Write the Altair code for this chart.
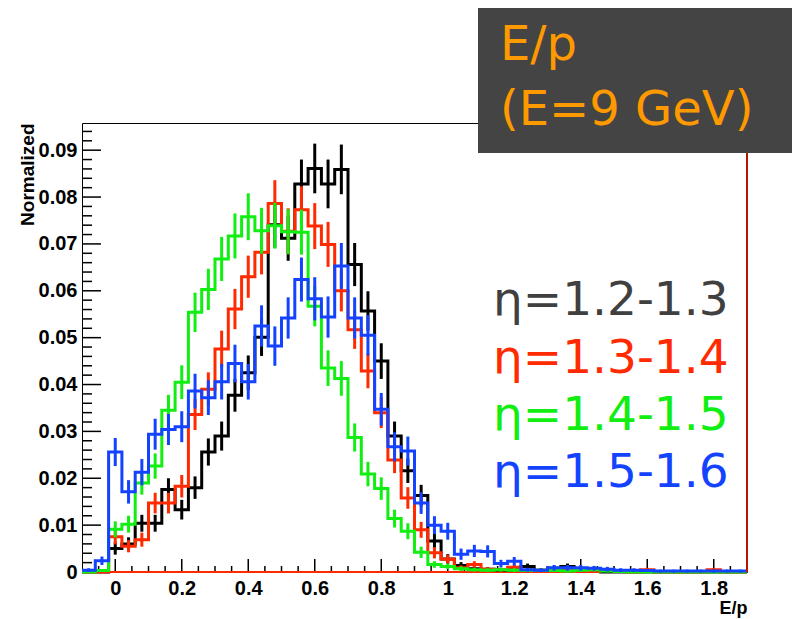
import numpy as np
import pandas as pd
import altair as alt

# ---------------- binning of the E/p histograms ----------------
X_MIN, X_MAX = -0.1, 1.9
BIN_WIDTH = 0.04
N_BINS = 50
BIN_LEFT = np.round(X_MIN + BIN_WIDTH * np.arange(N_BINS), 4)
BIN_CENTER = np.round(BIN_LEFT + BIN_WIDTH / 2, 4)

# ---------------- series ----------------
SERIES = ["η=1.2-1.3", "η=1.3-1.4", "η=1.4-1.5", "η=1.5-1.6"]
LINE_COLORS = ["#000000", "#ff2a00", "#11ee11", "#1443ff"]
TEXT_COLORS = ["#404040", "#ff2a00", "#11ee11", "#1443ff"]

VAL_12 = [0, 0, 0.0050, 0.0060, 0.0104, 0.0104, 0.0176, 0.0133, 0.0180, 0.0256,
          0.0290, 0.0377, 0.0425, 0.0501, 0.0741, 0.0712, 0.0828, 0.0861, 0.0828, 0.0859,
          0.0656, 0.0557, 0.0450, 0.0290, 0.0216, 0.0163, 0.0066, 0.0028, 0.0014, 0.0007,
          0.0006, 0.0004, 0.0005, 0.0012, 0.0004, 0.0008, 0.0012, 0.0004, 0.0003, 0,
          0, 0, 0, 0, 0, 0, 0, 0, 0, 0]
ERR_12 = [0, 0, 0.0013, 0.0014, 0.0018, 0.0018, 0.0024, 0.0021, 0.0024, 0.0029,
          0.0031, 0.0035, 0.0037, 0.0040, 0.0049, 0.0048, 0.0052, 0.0053, 0.0052, 0.0053,
          0.0046, 0.0042, 0.0038, 0.0031, 0.0026, 0.0023, 0.0015, 0.0010, 0.0007, 0.0005,
          0.0004, 0.0004, 0.0004, 0.0006, 0.0004, 0.0005, 0.0006, 0.0004, 0.0003, 0,
          0, 0, 0, 0, 0, 0, 0, 0, 0, 0]

VAL_13 = [0, 0, 0.0075, 0.0055, 0.0069, 0.0147, 0.0147, 0.0183, 0.0336, 0.0390,
          0.0476, 0.0561, 0.0630, 0.0682, 0.0786, 0.0727, 0.0773, 0.0738, 0.0699, 0.0600,
          0.0517, 0.0429, 0.0340, 0.0239, 0.0158, 0.0090, 0.0041, 0.0027, 0.0009, 0.0016,
          0.0006, 0.0005, 0.0010, 0.0002, 0.0004, 0.0002, 0.0004, 0.0003, 0.0002, 0.0003,
          0.0002, 0, 0.0005, 0, 0, 0, 0, 0.0005, 0, 0]
ERR_13 = [0, 0, 0.0016, 0.0013, 0.0015, 0.0022, 0.0022, 0.0024, 0.0033, 0.0036,
          0.0039, 0.0043, 0.0045, 0.0047, 0.0050, 0.0049, 0.0050, 0.0049, 0.0048, 0.0044,
          0.0041, 0.0037, 0.0033, 0.0028, 0.0023, 0.0017, 0.0012, 0.0009, 0.0005, 0.0007,
          0.0004, 0.0004, 0.0006, 0.0003, 0.0004, 0.0003, 0.0004, 0.0003, 0.0003, 0.0003,
          0.0003, 0, 0.0004, 0, 0, 0, 0, 0.0004, 0, 0]

VAL_14 = [0, 0.0003, 0.0091, 0.0102, 0.0190, 0.0226, 0.0345, 0.0405, 0.0554, 0.0603,
          0.0668, 0.0717, 0.0758, 0.0728, 0.0739, 0.0726, 0.0725, 0.0567, 0.0435, 0.0413,
          0.0287, 0.0209, 0.0178, 0.0114, 0.0087, 0.0042, 0.0016, 0.0012, 0.0007, 0.0005,
          0.0004, 0.0005, 0.0004, 0.0003, 0.0004, 0.0003, 0.0002, 0.0004, 0.0005, 0.0002,
          0.0001, 0, 0, 0, 0, 0, 0, 0, 0, 0]
ERR_14 = [0, 0.0003, 0.0017, 0.0018, 0.0025, 0.0027, 0.0033, 0.0036, 0.0042, 0.0044,
          0.0047, 0.0048, 0.0050, 0.0049, 0.0049, 0.0048, 0.0048, 0.0043, 0.0038, 0.0037,
          0.0030, 0.0026, 0.0024, 0.0019, 0.0017, 0.0012, 0.0007, 0.0006, 0.0005, 0.0004,
          0.0004, 0.0004, 0.0004, 0.0003, 0.0004, 0.0003, 0.0003, 0.0004, 0.0004, 0.0003,
          0.0002, 0, 0, 0, 0, 0, 0, 0, 0, 0]

VAL_15 = [0.0004, 0.0024, 0.0256, 0.0171, 0.0213, 0.0294, 0.0304, 0.0310, 0.0386, 0.0372,
          0.0406, 0.0445, 0.0406, 0.0525, 0.0482, 0.0542, 0.0624, 0.0583, 0.0544, 0.0653,
          0.0542, 0.0505, 0.0347, 0.0267, 0.0258, 0.0147, 0.0100, 0.0087, 0.0038, 0.0045,
          0.0044, 0.0018, 0.0023, 0.0005, 0.0004, 0.0009, 0.0009, 0.0009, 0.0008, 0.0006,
          0.0004, 0.0004, 0.0003, 0.0002, 0.0002, 0.0002, 0.0002, 0.0002, 0.0002, 0.0002]
ERR_15 = [0.0004, 0.0009, 0.0030, 0.0025, 0.0028, 0.0033, 0.0033, 0.0033, 0.0037, 0.0037,
          0.0038, 0.0040, 0.0038, 0.0044, 0.0042, 0.0044, 0.0047, 0.0046, 0.0044, 0.0049,
          0.0044, 0.0043, 0.0035, 0.0031, 0.0031, 0.0023, 0.0019, 0.0018, 0.0012, 0.0013,
          0.0013, 0.0008, 0.0009, 0.0004, 0.0004, 0.0006, 0.0006, 0.0006, 0.0005, 0.0005,
          0.0004, 0.0004, 0.0003, 0.0003, 0.0003, 0.0003, 0.0003, 0.0003, 0.0003, 0.0003]

VALUES = [VAL_12, VAL_13, VAL_14, VAL_15]
ERRORS = [ERR_12, ERR_13, ERR_14, ERR_15]

# ---------------- axes ----------------
Y_MAX = 0.0958
Y_LABELS = [0.0, 0.01, 0.02, 0.03, 0.04, 0.05, 0.06, 0.07, 0.08, 0.09]
X_LABELS = [0.0, 0.2, 0.4, 0.6, 0.8, 1.0, 1.2, 1.4, 1.6, 1.8]
Y_MINOR = [round(0.002 * k, 3) for k in range(48) if k % 5 != 0]
X_MINOR = [round(0.05 * k, 2) for k in range(-1, 38) if k % 4 != 0]

TITLE_BOX = ["E/p", "(E=9 GeV)"]

W, H = 665, 449
AXIS_FONT = "Liberation Sans"

xs = alt.Scale(domain=[X_MIN, X_MAX], nice=False, zero=False)
ys = alt.Scale(domain=[0, Y_MAX], nice=False, zero=False)

x_axis = alt.Axis(values=X_LABELS, labelExpr="format(datum.value, '~g')",
                  ticks=False, tickSize=0, domain=False, grid=False,
                  labelPadding=6, labelFont=AXIS_FONT, labelFontSize=20,
                  labelFontWeight="bold", labelColor="black", labelFlush=False,
                  title="E/p", titleFont=AXIS_FONT, titleFontSize=18,
                  titleFontWeight="bold", titleColor="black",
                  titleX=W, titleY=27, titleAlign="right", titleBaseline="top")
y_axis = alt.Axis(values=Y_LABELS,
                  labelExpr="datum.value == 0 ? '0' : format(datum.value, '.2f')",
                  ticks=False, tickSize=0, domain=False, grid=False,
                  labelPadding=5, labelFont=AXIS_FONT, labelFontSize=20,
                  labelFontWeight="bold", labelColor="black", labelFlush=False,
                  title="Normalized", titleFont=AXIS_FONT, titleFontSize=19,
                  titleFontWeight="bold", titleColor="black",
                  titleX=-45, titleY=0, titleAngle=270, titleAlign="right",
                  titleBaseline="bottom")

layers = []

# inward ticks (ROOT style)
layers.append(alt.Chart(pd.DataFrame({"v": Y_LABELS})).mark_rule(color="black", strokeWidth=1.5)
              .encode(y=alt.Y("v:Q", scale=ys, axis=y_axis), x=alt.value(0), x2=alt.value(19)))
layers.append(alt.Chart(pd.DataFrame({"v": Y_MINOR})).mark_rule(color="black", strokeWidth=1.5)
              .encode(y=alt.Y("v:Q", scale=ys, axis=y_axis), x=alt.value(0), x2=alt.value(10)))
layers.append(alt.Chart(pd.DataFrame({"v": X_LABELS})).mark_rule(color="black", strokeWidth=1.5)
              .encode(x=alt.X("v:Q", scale=xs, axis=x_axis), y=alt.value(H), y2=alt.value(H - 13)))
layers.append(alt.Chart(pd.DataFrame({"v": X_MINOR})).mark_rule(color="black", strokeWidth=1.5)
              .encode(x=alt.X("v:Q", scale=xs, axis=x_axis), y=alt.value(H), y2=alt.value(H - 6)))

# red zero line along the bottom
layers.append(alt.Chart(pd.DataFrame({"v": [0.0]})).mark_rule(color="#ff2a00", strokeWidth=2)
              .encode(y=alt.Y("v:Q", scale=ys, axis=y_axis), x=alt.value(0), x2=alt.value(W)))

for vals, errs, col in zip(VALUES, ERRORS, LINE_COLORS):
    step = pd.DataFrame({"x": list(BIN_LEFT) + [X_MAX], "y": list(vals) + [vals[-1]]})
    layers.append(alt.Chart(step).mark_line(interpolate="step-after", strokeWidth=3, color=col)
                  .encode(x=alt.X("x:Q", scale=xs, axis=x_axis),
                          y=alt.Y("y:Q", scale=ys, axis=y_axis)))
    eb = pd.DataFrame({"c": BIN_CENTER, "v": vals, "e": errs})
    eb = eb[eb["v"] > 0].copy()
    eb["lo"] = eb["v"] - eb["e"]
    eb["hi"] = eb["v"] + eb["e"]
    layers.append(alt.Chart(eb).mark_rule(strokeWidth=3, color=col)
                  .encode(x=alt.X("c:Q", scale=xs, axis=x_axis),
                          y=alt.Y("lo:Q", scale=ys, axis=y_axis), y2="hi:Q"))

# red right border of the frame
layers.append(alt.Chart(pd.DataFrame({"v": [0]})).mark_rule(color="#b81400", strokeWidth=2)
              .encode(x=alt.value(W), y=alt.value(0), y2=alt.value(H)))

# dark title box
layers.append(alt.Chart(pd.DataFrame({"v": [0]})).mark_rect(color="#444444")
              .encode(x=alt.value(396), x2=alt.value(720), y=alt.value(-118), y2=alt.value(30)))
for txt, yy in zip(TITLE_BOX, [-63, 2]):
    layers.append(alt.Chart(pd.DataFrame({"t": [txt]}))
                  .mark_text(align="left", baseline="alphabetic", font="DejaVu Sans",
                             fontSize=48, color="#ff9900")
                  .encode(text="t:N", x=alt.value(418), y=alt.value(yy)))

# legend texts
for name, col, yy in zip(SERIES, TEXT_COLORS, [192, 250, 307, 364]):
    layers.append(alt.Chart(pd.DataFrame({"t": [name]}))
                  .mark_text(align="left", baseline="alphabetic", font="DejaVu Sans",
                             fontSize=47, color=col)
                  .encode(text="t:N", x=alt.value(411), y=alt.value(yy)))

chart = alt.layer(*layers).properties(
    width=W, height=H,
    padding={"left": 74, "top": 115, "right": 45, "bottom": 47},
    autosize=alt.AutoSizeParams(type="none"),
    background="white",
).configure_view(stroke="black", strokeWidth=1)

chart.save("out.html", embed_options={"renderer": "svg", "actions": False})
